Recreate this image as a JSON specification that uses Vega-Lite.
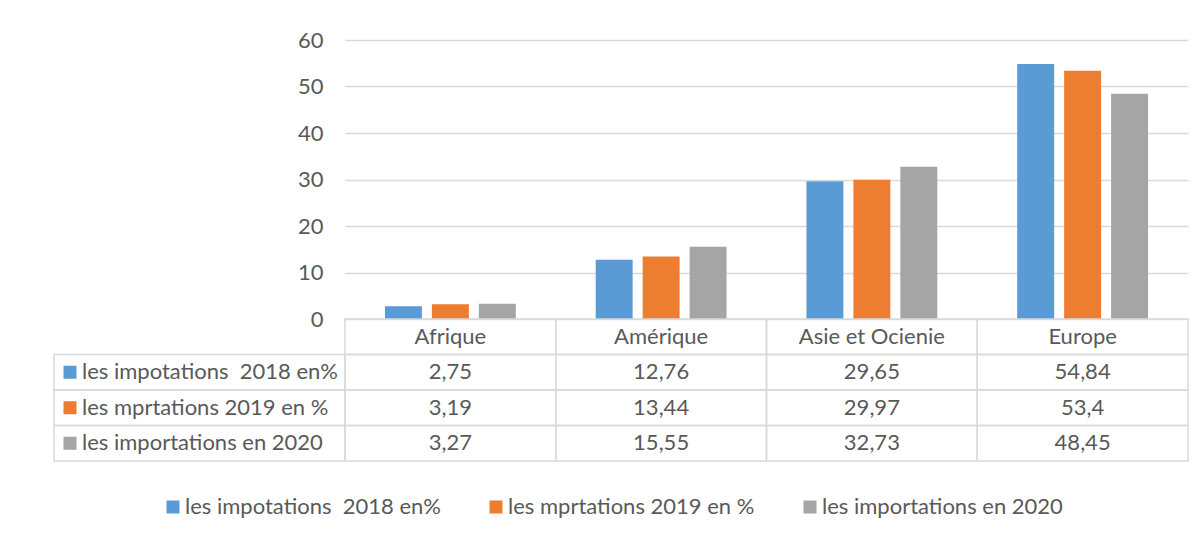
{
  "$schema": "https://vega.github.io/schema/vega-lite/v6.json",
  "width": 843,
  "height": 279,
  "autosize": {"type": "none"},
  "padding": {"left": 345, "top": 40, "right": 16, "bottom": 216},
  "background": "white",
  "config": {
    "view": {"stroke": null},
    "font": "Lato",
    "locale": {"number": {"decimal": ",", "thousands": "\u00a0", "grouping": [3], "currency": ["", "\u00a0€"]}},
    "text": {"font": "Lato", "fontSize": 22, "color": "#595959"}
  },
  "datasets": {
    "values": [
      {"region": "Afrique", "series": "les impotations \u00a02018 en%", "value": 2.75},
      {"region": "Afrique", "series": "les mprtations 2019 en %", "value": 3.19},
      {"region": "Afrique", "series": "les importations en 2020", "value": 3.27},
      {"region": "Amérique", "series": "les impotations \u00a02018 en%", "value": 12.76},
      {"region": "Amérique", "series": "les mprtations 2019 en %", "value": 13.44},
      {"region": "Amérique", "series": "les importations en 2020", "value": 15.55},
      {"region": "Asie et Ocienie", "series": "les impotations \u00a02018 en%", "value": 29.65},
      {"region": "Asie et Ocienie", "series": "les mprtations 2019 en %", "value": 29.97},
      {"region": "Asie et Ocienie", "series": "les importations en 2020", "value": 32.73},
      {"region": "Europe", "series": "les impotations \u00a02018 en%", "value": 54.84},
      {"region": "Europe", "series": "les mprtations 2019 en %", "value": 53.4},
      {"region": "Europe", "series": "les importations en 2020", "value": 48.45}
    ],
    "regions": [
      {"region": "Afrique"},
      {"region": "Amérique"},
      {"region": "Asie et Ocienie"},
      {"region": "Europe"}
    ],
    "series": [
      {"series": "les impotations \u00a02018 en%"},
      {"series": "les mprtations 2019 en %"},
      {"series": "les importations en 2020"}
    ]
  },
  "layer": [
    {
      "data": {"name": "values"},
      "mark": {"type": "bar"},
      "encoding": {
        "x": {"field": "region", "type": "nominal", "scale": {"domain": ["Afrique", "Amérique", "Asie et Ocienie", "Europe"], "paddingInner": 0, "paddingOuter": 0}, "axis": null},
        "xOffset": {"field": "series", "type": "nominal", "scale": {"domain": ["les impotations \u00a02018 en%", "les mprtations 2019 en %", "les importations en 2020"], "paddingInner": 0.213, "paddingOuter": 0.851}},
        "y": {"field": "value", "type": "quantitative", "scale": {"domain": [0, 60], "nice": false}, "axis": {"values": [0, 10, 20, 30, 40, 50, 60], "grid": true, "gridColor": "#D9D9D9", "gridWidth": 1.3, "domain": false, "ticks": false, "labelPadding": 22, "labelFont": "Lato", "labelFontSize": 22, "labelColor": "#595959", "title": null}},
        "color": {"field": "series", "type": "nominal", "scale": {"domain": ["les impotations \u00a02018 en%", "les mprtations 2019 en %", "les importations en 2020"], "range": ["#5B9BD5", "#ED7D31", "#A5A5A5"]}, "legend": {"title": null, "orient": "none", "direction": "horizontal", "legendX": -183, "legendY": 456, "padding": 0, "symbolType": "square", "symbolSize": 169, "symbolStrokeWidth": 0, "labelFont": "Lato", "labelFontSize": 22, "labelColor": "#595959", "labelOffset": 1, "labelLimit": 0, "columnPadding": 44}}
      }
    },
    {
      "layer": [
        {
          "data": {"name": "values"},
          "mark": {"type": "rect", "fill": "transparent", "stroke": "#D9D9D9", "strokeWidth": 1.5},
          "encoding": {
            "x": {"field": "region", "type": "nominal", "scale": {"domain": ["Afrique", "Amérique", "Asie et Ocienie", "Europe"], "paddingInner": 0, "paddingOuter": 0}, "axis": null},
            "y": {"field": "series", "type": "nominal", "scale": {"domain": ["__hdr", "les impotations \u00a02018 en%", "les mprtations 2019 en %", "les importations en 2020"], "range": [279, 421], "paddingInner": 0, "paddingOuter": 0}, "axis": null}
          }
        },
        {
          "data": {"name": "values"},
          "mark": {"type": "text"},
          "encoding": {
            "x": {"field": "region", "type": "nominal", "axis": null},
            "y": {"field": "series", "type": "nominal", "axis": null},
            "text": {"field": "value", "type": "quantitative", "format": ".4~g"}
          }
        },
        {
          "data": {"name": "regions"},
          "mark": {"type": "rect", "fill": "transparent", "stroke": "#D9D9D9", "strokeWidth": 1.5},
          "encoding": {
            "x": {"field": "region", "type": "nominal", "axis": null},
            "y": {"datum": "__hdr", "type": "nominal", "axis": null}
          }
        },
        {
          "data": {"name": "regions"},
          "mark": {"type": "text"},
          "encoding": {
            "x": {"field": "region", "type": "nominal", "axis": null},
            "y": {"datum": "__hdr", "type": "nominal", "axis": null},
            "text": {"field": "region", "type": "nominal"}
          }
        }
      ]
    },
    {
      "layer": [
        {
          "data": {"name": "series"},
          "mark": {"type": "rect", "fill": "transparent", "stroke": "#D9D9D9", "strokeWidth": 1.5},
          "encoding": {
            "x": {"datum": "lbl", "type": "nominal", "scale": {"domain": ["lbl"], "range": [-291, 0], "paddingInner": 0, "paddingOuter": 0}, "axis": null},
            "y": {"field": "series", "type": "nominal", "scale": {"domain": ["les impotations \u00a02018 en%", "les mprtations 2019 en %", "les importations en 2020"], "range": [314.5, 421], "paddingInner": 0, "paddingOuter": 0}, "axis": null}
          }
        },
        {
          "data": {"name": "series"},
          "mark": {"type": "point", "shape": "square", "filled": true, "size": 169, "opacity": 1, "xOffset": 16},
          "encoding": {
            "x": {"datum": "lbl", "type": "nominal", "bandPosition": 0, "axis": null},
            "y": {"field": "series", "type": "nominal", "axis": null},
            "color": {"field": "series", "type": "nominal", "scale": {"domain": ["les impotations \u00a02018 en%", "les mprtations 2019 en %", "les importations en 2020"], "range": ["#5B9BD5", "#ED7D31", "#A5A5A5"]}, "legend": {"title": null, "orient": "none", "direction": "horizontal", "legendX": -183, "legendY": 456, "padding": 0, "symbolType": "square", "symbolSize": 169, "symbolStrokeWidth": 0, "labelFont": "Lato", "labelFontSize": 22, "labelColor": "#595959", "labelOffset": 1, "labelLimit": 0, "columnPadding": 44}}
          }
        },
        {
          "data": {"name": "series"},
          "mark": {"type": "text", "align": "left", "dx": 28},
          "encoding": {
            "x": {"datum": "lbl", "type": "nominal", "bandPosition": 0, "axis": null},
            "y": {"field": "series", "type": "nominal", "axis": null},
            "text": {"field": "series", "type": "nominal"}
          }
        }
      ]
    }
  ],
  "resolve": {"scale": {"x": "independent", "y": "independent"}}
}
